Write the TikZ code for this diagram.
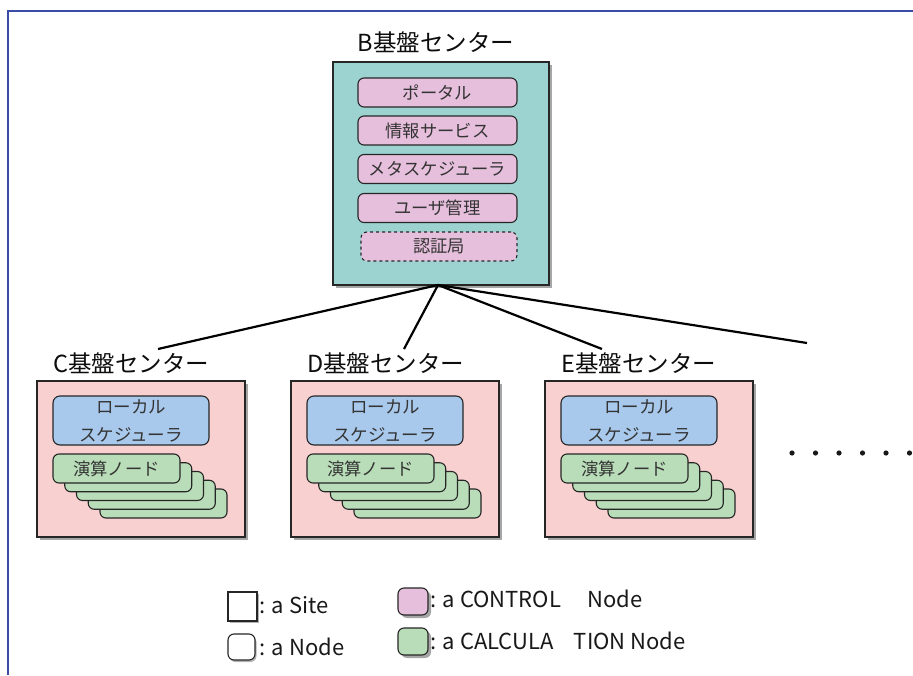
\documentclass[tikz,border=0pt]{standalone}
\usepackage{fontspec}
\setmainfont{Noto Sans CJK JP}
\usetikzlibrary{shadows}
\definecolor{frameblue}{HTML}{3A4DA6}
\definecolor{bteal}{HTML}{9CD3D0}
\definecolor{ctrlpink}{HTML}{E6BFDC}
\definecolor{sitepink}{HTML}{F9D0D0}
\definecolor{schedblue}{HTML}{A8C9EC}
\definecolor{calcgreen}{HTML}{B9DDB8}
\definecolor{txtgray}{HTML}{333333}
\tikzset{
  shad/.style={drop shadow={shadow xshift=3pt,shadow yshift=-3pt,opacity=0.35,fill=black}},
  smallshad/.style={drop shadow={shadow xshift=1.5pt,shadow yshift=-2pt,opacity=0.3,fill=black}},
  bigbox/.style={draw=black!85,line width=1.2pt,inner sep=0pt,shad},
  sitebox/.style={bigbox,fill=sitepink,minimum width=208pt,minimum height=156pt},
  ctrlbox/.style={draw=black!85,line width=1.1pt,rounded corners=6pt,fill=ctrlpink,
    minimum width=159pt,minimum height=29pt,inner sep=0pt,text=txtgray,font=\fontsize{17.3}{19}\selectfont},
  schedbox/.style={draw=black!85,line width=1.1pt,rounded corners=7pt,fill=schedblue,
    minimum width=156pt,minimum height=49pt,inner sep=0pt,text=txtgray,align=center,font=\fontsize{17.5}{28}\selectfont},
  calcbox/.style={draw=black!85,line width=1.1pt,rounded corners=6pt,fill=calcgreen,
    minimum width=127pt,minimum height=29pt,inner sep=0pt,text=txtgray,font=\fontsize{17.3}{19}\selectfont},
  lab/.style={inner sep=0pt,text=black!95,font=\fontsize{23.5}{26}\selectfont},
  link/.style={draw=black,line width=2.2pt},
  legtext/.style={inner sep=0pt,anchor=west,text=black!90,font=\fontsize{22}{24}\selectfont},
}
\begin{document}
\begin{tikzpicture}[x=1pt,y=-1pt]
\useasboundingbox (0,0) rectangle (913,675);
\fill[white] (0,0) rectangle (913,675);
% frame
\draw[frameblue,line width=1.6pt] (8,675) -- (8,11) -- (913,11);

% B center
\node[lab] (Blab) at (436,42) {B基盤センター};
\node[bigbox,fill=bteal,minimum width=216pt,minimum height=223pt] (B) at (441,173.5) {};
\node[ctrlbox] (portal) at (437.5,92.5) {ポータル};
\node[ctrlbox] (info) at (437.5,130.5) {情報サービス};
\node[ctrlbox] (meta) at (437.5,169) {メタスケジューラ};
\node[ctrlbox] (user) at (437.5,208) {ユーザ管理};
\node[ctrlbox,dashed,minimum width=156pt] (ca) at (439,246.5) {認証局};

% sites
\foreach \n/\cx in {C/141,D/395,E/649}{
  \node[lab,anchor=west] (\n lab) at (\cx-88,363) {\n 基盤センター};
  \node[sitebox] (\n site) at (\cx,459) {};
  \node[schedbox] (\n sched) at (\cx-10,420.5) {ローカル\\スケジューラ};
  \foreach \k in {4,3,2,1}{
    \node[calcbox] (\n calc\k) at (\cx-24.5+11.75*\k,468.5+8.75*\k) {};
  }
  \node[calcbox] (\n calc0) at (\cx-24.5,468.5) {演算ノード};
}

% connectors
\coordinate (hub) at (438,285);
\coordinate (Cend) at (158,349);
\coordinate (Dend) at (404,349);
\coordinate (Eend) at (602,349);
\coordinate (Fend) at (807,343);
\draw[link] (hub) -- (Cend);
\draw[link] (hub) -- (Dend);
\draw[link] (hub) -- (Eend);
\draw[link] (hub) -- (Fend);

% dots
\foreach \x in {792,815.5,839,862.5,886,909.5}{
  \fill[black!90] (\x,453) circle (2.6pt);
}

% legend
\node[draw=black!85,line width=1.1pt,fill=white,minimum width=29pt,minimum height=29pt,inner sep=0pt,smallshad] (lsite) at (242.5,606.5) {};
\node[legtext] (lsitet) at (259,605) {: a Site};
\node[draw=black!85,line width=1.1pt,fill=white,rounded corners=6pt,minimum width=27pt,minimum height=26pt,inner sep=0pt,smallshad] (lnode) at (241.5,647) {};
\node[legtext] (lnodet) at (259,647) {: a Node};
\node[draw=black!85,line width=1.1pt,fill=ctrlpink,rounded corners=6pt,minimum width=30pt,minimum height=27pt,inner sep=0pt,shad] (lctrl) at (413,601.5) {};
\node[legtext] (lctrlt) at (430,599) {: a CONTROL\hspace{26pt}Node};
\node[draw=black!85,line width=1.1pt,fill=calcgreen,rounded corners=6pt,minimum width=30pt,minimum height=27pt,inner sep=0pt,shad] (lcalc) at (413,641.5) {};
\node[legtext] (lcalct) at (430,641) {: a CALCULA\hspace{20pt}TION Node};
\end{tikzpicture}
\end{document}
